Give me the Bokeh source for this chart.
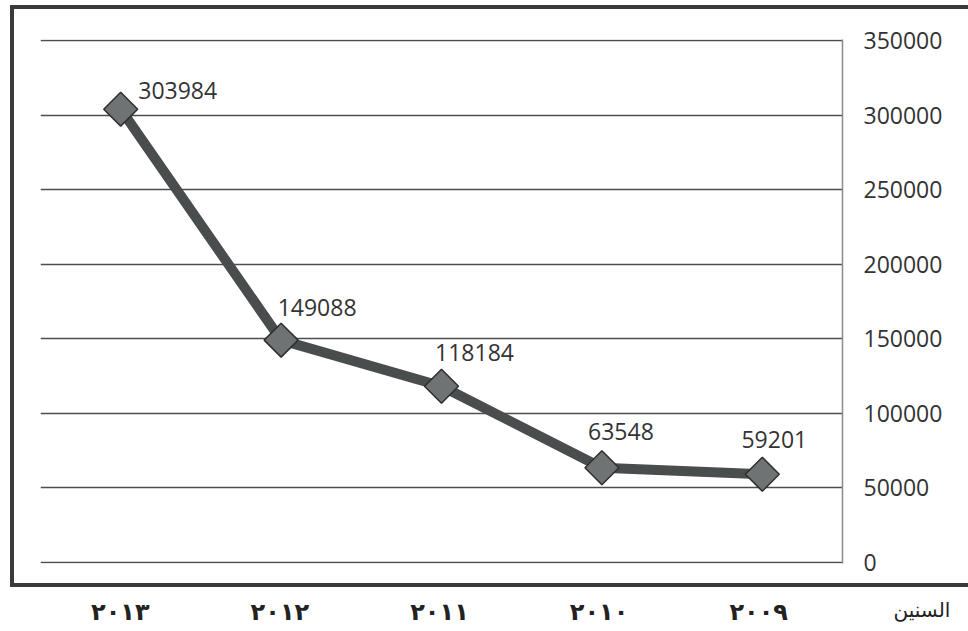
from bokeh.plotting import figure
from bokeh.layouts import column
from bokeh.models import (Range1d, FactorRange, ColumnDataSource, LinearAxis,
                          FixedTicker, NumeralTickFormatter)
from bokeh.embed import file_html
from bokeh.resources import INLINE
from bokeh.core.properties import value

# ---- data ----
years = ["٢٠١٣", "٢٠١٢", "٢٠١١", "٢٠١٠", "٢٠٠٩"]
counts = [303984, 149088, 118184, 63548, 59201]
count_labels = [str(v) for v in counts]
y_ticks = [0, 50000, 100000, 150000, 200000, 250000, 300000, 350000]
x_title = "السنين"

# label placement offsets (pixels) - styling only
label_dx = [57, 36, 33, 19, 12]
label_dy = [-19, -33, -34, -36, -35]

src = ColumnDataSource(dict(x=years, y=counts, t=count_labels, dx=label_dx, dy=label_dy))
xr = FactorRange(*years)

# ---------- main boxed chart ----------
p = figure(frame_width=798, frame_height=516,
           x_range=xr,
           y_range=Range1d(-700, 350700),
           y_axis_location="right", x_axis_location=None,
           output_backend="svg", toolbar_location=None,
           min_border_left=26, min_border_right=130,
           min_border_top=30, min_border_bottom=28)
p.styles = {"margin-left": "10px", "margin-top": "5px",
            "box-sizing": "content-box",
            "border-left": "4px solid #3a3a3a",
            "border-top": "4px solid #3a3a3a",
            "border-bottom": "4px solid #3a3a3a"}

p.background_fill_color = "white"
p.border_fill_color = "white"
p.outline_line_color = None

p.xgrid.grid_line_color = None
p.ygrid.grid_line_color = "#4d4d4d"
p.ygrid.grid_line_width = 1.6
p.ygrid.ticker = FixedTicker(ticks=y_ticks)

ya = p.yaxis[0]
ya.ticker = FixedTicker(ticks=y_ticks)
ya.formatter = NumeralTickFormatter(format="0")
ya.axis_line_color = "#8a8a8a"
ya.axis_line_width = 1.5
ya.major_tick_line_color = None
ya.minor_tick_line_color = None
ya.major_label_standoff = 15
ya.major_label_text_font = "Open Sans"
ya.major_label_text_font_size = "23px"
ya.major_label_text_color = "#333333"

p.line("x", "y", source=src, line_color="#4a4d4d", line_width=10, line_join="round")
p.scatter("x", "y", source=src, marker="square", size=24, angle=0.785398,
          fill_color="#6f7373", line_color="#2e2e2e", line_width=1.5)
p.text("x", "y", text="t", source=src, x_offset="dx", y_offset="dy",
       text_align="center", text_baseline="middle",
       text_font=value("Open Sans"), text_font_size="23px", text_color="#333333")

# ---------- year labels strip below the box ----------
ysrc = ColumnDataSource(dict(x=years, y=[0.5] * len(years)))
p2 = figure(frame_width=798, frame_height=28, x_range=xr, y_range=Range1d(0, 1),
            x_axis_location=None, y_axis_location=None,
            output_backend="svg", toolbar_location=None,
            min_border_left=26, min_border_right=130,
            min_border_top=8, min_border_bottom=8)
p2.styles = {"margin-left": "14px", "box-sizing": "content-box"}
p2.outline_line_color = None
p2.background_fill_color = "white"
p2.border_fill_color = "white"
p2.grid.visible = False
p2.text("x", "y", text="x", source=ysrc, text_align="center", text_baseline="middle",
        y_offset=2,
        text_font=value("DejaVu Sans"), text_font_size="24px",
        text_font_style="bold", text_color="#222222")

ta = LinearAxis(ticker=FixedTicker(ticks=[]), axis_label=x_title,
                axis_label_orientation="horizontal", axis_label_standoff=55,
                axis_line_color=None, major_tick_line_color=None,
                minor_tick_line_color=None, major_label_text_font_size="0px",
                axis_label_text_font="DejaVu Sans", axis_label_text_font_size="20px",
                axis_label_text_font_style="normal", axis_label_text_color="#222222")
p2.add_layout(ta, "right")

layout = column(p, p2, spacing=0)
open("out.html", "w").write(file_html(layout, INLINE))
